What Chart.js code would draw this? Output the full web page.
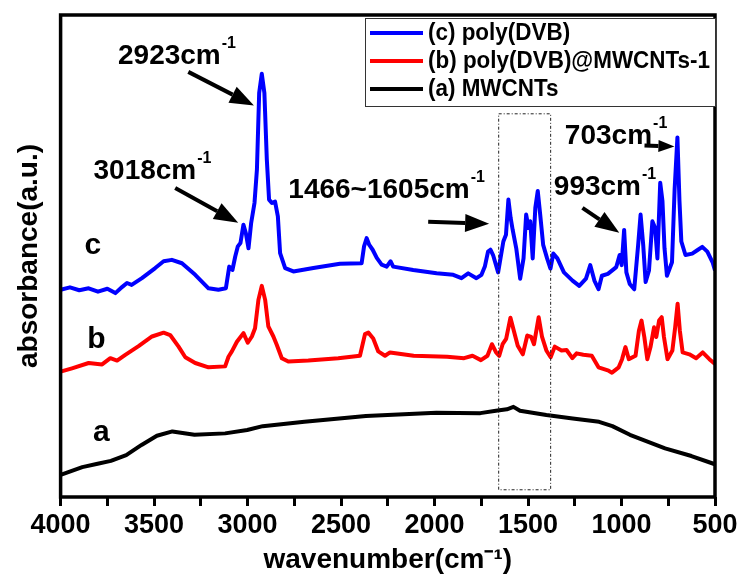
<!DOCTYPE html>
<html>
<head>
<meta charset="utf-8">
<script src="https://cdn.jsdelivr.net/npm/chart.js@4.4.3/dist/chart.umd.min.js"></script>
<style>
  html, body { margin: 0; padding: 0; background: #fff; }
</style>
</head>
<body>
<canvas id="ftirChart" width="738" height="575"></canvas>
<script>
// (c) poly(DVB)
const waveC = [4000, 3950, 3900, 3850, 3800, 3750, 3707, 3670, 3645, 3620, 3565, 3494, 3449, 3405, 3351, 3280, 3209, 3156, 3116, 3098, 3081, 3066, 3052, 3038, 3022, 3009, 2995, 2981, 2963, 2950, 2938, 2924, 2910, 2897, 2885, 2870, 2853, 2838, 2826, 2799, 2755, 2648, 2506, 2390, 2377, 2363, 2349, 2331, 2309, 2283, 2256, 2235, 2221, 2114, 1989, 1900, 1856, 1820, 1776, 1749, 1731, 1714, 1701, 1687, 1660, 1632, 1618, 1605, 1593, 1582, 1563, 1542, 1524, 1510, 1497, 1488, 1475, 1461, 1448, 1435, 1419, 1398, 1380, 1365, 1343, 1308, 1262, 1226, 1190, 1167, 1145, 1123, 1105, 1073, 1028, 1010, 999, 986, 974, 956, 932, 911, 898, 884, 871, 853, 835, 820, 808, 793, 781, 770, 757, 730, 716, 701, 690, 680, 658, 622, 595, 568, 541, 513, 500];
const absC = [43.0, 43.5, 42.9, 43.3, 42.6, 43.2, 42.3, 43.6, 44.4, 44.0, 45.4, 47.5, 48.9, 49.2, 48.5, 46.1, 43.3, 43.0, 43.3, 47.8, 47.1, 49.9, 52.0, 52.7, 56.5, 54.7, 51.6, 56.8, 61.0, 67.9, 83.8, 87.8, 83.8, 70.0, 61.7, 61.0, 61.3, 58.2, 50.6, 47.5, 46.8, 47.5, 48.4, 48.5, 52.0, 53.7, 52.3, 51.3, 49.6, 48.2, 47.8, 48.9, 47.8, 47.1, 46.4, 46.1, 45.4, 46.4, 45.4, 46.1, 47.8, 50.9, 51.3, 50.2, 46.6, 53.0, 54.4, 61.7, 57.9, 55.4, 51.6, 45.3, 49.5, 58.6, 55.8, 57.2, 49.5, 60.0, 63.5, 58.6, 52.3, 49.5, 47.4, 50.5, 49.5, 46.6, 44.9, 43.8, 45.3, 48.1, 44.9, 43.1, 45.9, 46.3, 47.7, 50.2, 48.1, 55.4, 46.6, 44.2, 43.1, 52.3, 58.6, 52.3, 44.6, 47.0, 57.2, 55.8, 49.5, 65.2, 61.4, 51.6, 45.9, 48.7, 63.8, 74.6, 61.4, 53.0, 50.2, 50.5, 51.2, 51.9, 50.9, 48.7, 47.0];

// (b) poly(DVB)@MWCNTs-1
const waveB = [4000, 3939, 3850, 3778, 3734, 3698, 3654, 3583, 3511, 3449, 3414, 3369, 3333, 3280, 3209, 3120, 3102, 3084, 3057, 3022, 2999, 2977, 2960, 2942, 2924, 2906, 2889, 2862, 2844, 2817, 2782, 2675, 2515, 2399, 2372, 2354, 2328, 2301, 2265, 2238, 2112, 1933, 1842, 1797, 1752, 1717, 1693, 1671, 1654, 1636, 1617, 1594, 1576, 1555, 1528, 1504, 1483, 1468, 1443, 1425, 1402, 1379, 1357, 1321, 1294, 1263, 1240, 1204, 1159, 1123, 1069, 1051, 1015, 997, 979, 961, 925, 907, 893, 878, 862, 845, 826, 814, 799, 785, 773, 754, 728, 713, 700, 688, 673, 637, 601, 566, 530, 500];
const absB = [26.0, 26.7, 27.8, 27.5, 28.8, 28.3, 29.5, 31.3, 33.3, 34.1, 33.6, 31.2, 29.0, 27.8, 26.9, 27.1, 29.1, 30.2, 32.2, 34.0, 32.0, 33.3, 35.0, 40.9, 43.8, 40.9, 35.4, 33.3, 31.6, 28.8, 28.1, 28.3, 28.8, 29.3, 33.8, 34.1, 32.9, 30.2, 29.3, 30.0, 29.3, 29.1, 28.8, 29.3, 28.4, 29.3, 31.7, 30.0, 29.3, 31.7, 32.8, 37.2, 34.5, 31.4, 29.6, 33.5, 33.2, 31.7, 37.3, 33.2, 30.4, 29.0, 31.2, 30.4, 30.5, 28.8, 29.8, 29.5, 29.3, 26.9, 26.2, 25.8, 26.9, 28.6, 31.1, 28.6, 29.3, 34.5, 36.6, 33.2, 28.6, 31.1, 35.2, 33.2, 36.6, 37.3, 33.2, 28.6, 30.4, 35.2, 40.1, 34.5, 30.0, 29.6, 28.8, 30.0, 28.6, 27.6];

// (a) MWCNTs
const waveA = [4000, 3884, 3802, 3731, 3649, 3567, 3485, 3402, 3284, 3120, 3002, 2919, 2696, 2367, 1990, 1755, 1672, 1613, 1578, 1543, 1402, 1261, 1120, 1049, 955, 767, 626, 508, 500];
const absA = [4.6, 6.2, 6.9, 7.5, 8.7, 10.8, 12.7, 13.6, 12.9, 13.2, 13.9, 14.7, 15.6, 16.8, 17.5, 17.4, 17.9, 18.2, 18.7, 17.9, 17.0, 16.3, 15.6, 14.7, 12.9, 10.1, 8.5, 6.9, 6.8];

const seriesLabels = ['(c) poly(DVB)', '(b) poly(DVB)@MWCNTs-1', '(a) MWCNTs'];
const curveTags = ['c', 'b', 'a'];
const xTicks = [4000, 3500, 3000, 2500, 2000, 1500, 1000, 500];

// peak notes: label text, where the text sits and where the arrow points (x = wavenumber, y = absorbance)
const peakNotes = [
    { text: '2923cm', at: [3693, 89.9], arrow: [3317, 88.2, 2966, 81.2] },
    { text: '3018cm', at: [3824, 66.0], arrow: [3387, 64.1, 3050, 56.9] },
    { text: '1466~1605cm', at: [2782, 62.1], arrow: [2034, 57.1, 1708, 56.7] },
    { text: '993cm', at: [1362, 62.7], arrow: [1209, 60.0, 1012, 54.8] },
    { text: '703cm', at: [1303, 73.3], arrow: [877, 72.9, 717, 72.7], small: true }
];
const tagSpots = [[3827, 52.2], [3808, 32.6], [3782, 13.3]];
const regionBox = [1657, 1379, 1.5, 79.5];

const FONT = '"Liberation Sans", Arial, Helvetica, sans-serif';
const colors = ['#0000ff', '#ff0000', '#000000'];

function toPoints(xs, ys) {
    return xs.map((x, i) => ({ x: x, y: ys[i] }));
}

function drawArrow(ctx, x1, y1, x2, y2, head, half) {
    const ang = Math.atan2(y2 - y1, x2 - x1);
    const bx = x2 - head * Math.cos(ang);
    const by = y2 - head * Math.sin(ang);
    ctx.beginPath();
    ctx.moveTo(x1, y1);
    ctx.lineTo(bx, by);
    ctx.stroke();
    ctx.beginPath();
    ctx.moveTo(x2, y2);
    ctx.lineTo(bx + half * Math.sin(ang), by - half * Math.cos(ang));
    ctx.lineTo(bx - half * Math.sin(ang), by + half * Math.cos(ang));
    ctx.closePath();
    ctx.fill();
}

const overlay = {
    id: 'overlay',
    afterDatasetsDraw(chart) {
        const { ctx, scales: { x, y } } = chart;
        ctx.save();

        // dash-dot box round the aromatic region
        ctx.strokeStyle = '#222';
        ctx.lineWidth = 1;
        ctx.setLineDash([3, 2, 1, 2]);
        const bx1 = x.getPixelForValue(regionBox[0]);
        const bx2 = x.getPixelForValue(regionBox[1]);
        const by1 = y.getPixelForValue(regionBox[3]);
        const by2 = y.getPixelForValue(regionBox[2]);
        ctx.strokeRect(bx1, by1, bx2 - bx1, by2 - by1);
        ctx.setLineDash([]);

        // peak labels with arrows
        ctx.fillStyle = '#000';
        ctx.strokeStyle = '#000';
        ctx.lineWidth = 4;
        ctx.textBaseline = 'alphabetic';
        ctx.textAlign = 'left';
        peakNotes.forEach(n => {
            const tx = x.getPixelForValue(n.at[0]);
            const ty = y.getPixelForValue(n.at[1]);
            ctx.font = 'bold 28px ' + FONT;
            ctx.fillText(n.text, tx, ty);
            const w = ctx.measureText(n.text).width;
            ctx.font = 'bold 16px ' + FONT;
            ctx.fillText('-1', tx + w + 1, ty - 16);
            const a = n.arrow;
            drawArrow(ctx,
                x.getPixelForValue(a[0]), y.getPixelForValue(a[1]),
                x.getPixelForValue(a[2]), y.getPixelForValue(a[3]),
                n.small ? 16 : 24, n.small ? 6 : 9);
        });

        // curve tags
        ctx.font = 'bold 30px ' + FONT;
        ctx.textAlign = 'center';
        ctx.textBaseline = 'middle';
        curveTags.forEach((t, i) => {
            ctx.fillText(t, x.getPixelForValue(tagSpots[i][0]), y.getPixelForValue(tagSpots[i][1]));
        });

        ctx.restore();
    },
    afterDraw(chart) {
        const { ctx, chartArea: area } = chart;
        ctx.save();

        // frame
        ctx.strokeStyle = '#000';
        ctx.lineWidth = 3.5;
        ctx.strokeRect(area.left, area.top, area.right - area.left, area.bottom - area.top);

        // legend box
        const boxW = 350;
        const lx = area.right - boxW;
        const ly = area.top + 3;
        ctx.fillStyle = '#fff';
        ctx.fillRect(lx, ly, boxW, 88);
        ctx.strokeStyle = '#333';
        ctx.lineWidth = 1;
        ctx.strokeRect(lx + 0.5, ly + 0.5, boxW, 88);
        ctx.font = 'bold 23px ' + FONT;
        ctx.textAlign = 'left';
        ctx.textBaseline = 'middle';
        const widest = Math.max(...chart.data.datasets.map(ds => ctx.measureText(ds.label).width));
        const squeeze = Math.min(1, (boxW - 68) / widest);
        chart.data.datasets.forEach((ds, i) => {
            const ry = ly + 15 + i * 28;
            ctx.strokeStyle = ds.borderColor;
            ctx.lineWidth = 4;
            ctx.beginPath();
            ctx.moveTo(lx + 5, ry);
            ctx.lineTo(lx + 58, ry);
            ctx.stroke();
            ctx.save();
            ctx.translate(lx + 63, ry + 1);
            ctx.scale(squeeze, 1);
            ctx.fillStyle = '#000';
            ctx.fillText(ds.label, 0, 0);
            ctx.restore();
        });
        ctx.restore();
    }
};

const sets = [toPoints(waveC, absC), toPoints(waveB, absB), toPoints(waveA, absA)];

new Chart(document.getElementById('ftirChart'), {
    type: 'line',
    data: {
        datasets: sets.map((pts, i) => ({
            label: seriesLabels[i],
            data: pts,
            borderColor: colors[i],
            backgroundColor: colors[i],
            borderWidth: 4,
            pointRadius: 0,
            tension: 0,
            borderJoinStyle: 'round',
            fill: false
        }))
    },
    options: {
        responsive: false,
        animation: false,
        devicePixelRatio: 1,
        layout: { padding: { left: 0, right: 23, top: 15, bottom: 1 } },
        plugins: {
            legend: { display: false },
            tooltip: { enabled: false }
        },
        scales: {
            x: {
                type: 'linear',
                reverse: true,
                min: 500,
                max: 4000,
                afterFit(s) { s.paddingLeft = 0; s.paddingRight = 0; },
                ticks: {
                    stepSize: 250,
                    autoSkip: false,
                    maxRotation: 0,
                    padding: 6,
                    color: '#000',
                    font: { family: FONT, size: 27, weight: 'bold', lineHeight: 1 },
                    callback: v => xTicks.includes(v) ? String(v) : ''
                },
                grid: {
                    display: true,
                    drawOnChartArea: false,
                    drawTicks: true,
                    tickLength: 9,
                    tickWidth: 3,
                    tickColor: '#000'
                },
                border: { display: false },
                title: {
                    display: true,
                    text: 'wavenumber(cm\u207B\u00B9)',
                    color: '#000',
                    font: { family: FONT, size: 28, weight: 'bold', lineHeight: 1 },
                    padding: { top: 1, bottom: 0 }
                }
            },
            y: {
                min: 0,
                max: 100,
                ticks: { display: false },
                grid: { display: false, drawTicks: false },
                border: { display: false },
                title: {
                    display: true,
                    text: 'absorbance(a.u.)',
                    color: '#000',
                    font: { family: FONT, size: 28, weight: 'bold', lineHeight: 1.2 },
                    padding: { top: 12, bottom: 15 }
                }
            }
        }
    },
    plugins: [overlay]
});
</script>
</body>
</html>
